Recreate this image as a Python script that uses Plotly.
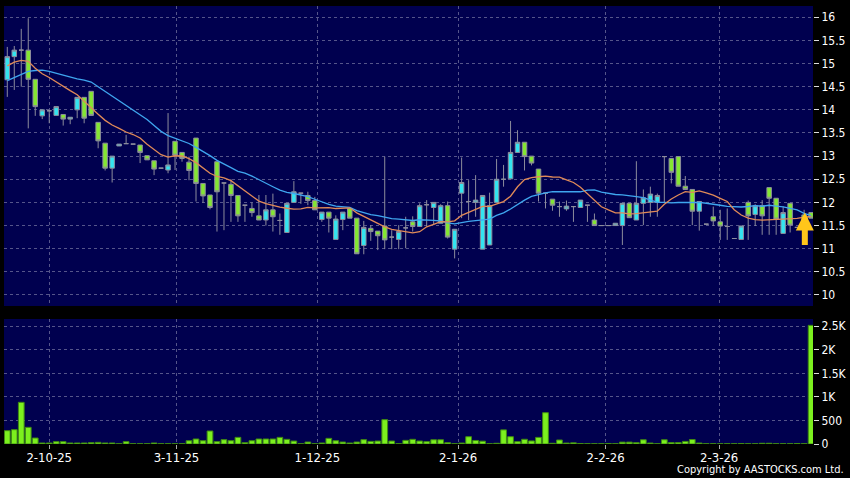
import plotly.graph_objects as go

# ---------------- data ----------------
opens = [14.65, 15.15, 15.29, 15.29, 14.66, 13.87, 13.98, 13.88, 13.90, 13.80,
         14.00, 14.27, 14.40, 13.73, 13.28, 12.74, 13.22, 13.27, 13.26, 13.24,
         13.01, 12.90, 12.74, 12.70, 13.32, 13.08, 12.87, 13.39, 12.41, 12.16,
         12.88, 12.42, 12.39, 12.15, 11.94, 11.87, 11.71, 11.62, 11.84, 11.61,
         11.35, 12.00, 12.20, 12.15, 12.04, 11.63, 11.79, 11.20, 11.63, 11.87,
         11.66, 11.07, 11.44, 11.38, 11.49, 11.25, 11.20, 11.45, 11.58, 11.48,
         11.95, 11.89, 11.55, 11.93, 10.99, 12.20, 12.02, 12.00, 10.99, 11.08,
         12.00, 12.50, 12.51, 13.08, 13.30, 13.00, 12.72, 12.20, 12.07, 11.91,
         11.86, 11.91, 11.89, 11.94, 11.62, 11.50, 11.50, 11.50, 11.50, 11.98,
         11.62, 11.98, 12.00, 12.00, 12.99, 12.95, 12.99, 12.35, 12.28, 11.81,
         11.53, 11.69, 11.58, 11.48, 11.22, 11.20, 12.00, 11.74, 11.93, 12.32,
         12.09, 11.33, 11.98, 11.46, 11.73, 11.78]
highs = [15.36, 15.38, 15.75, 15.98, 14.66, 14.00, 13.98, 14.07, 13.90, 13.84,
         14.27, 14.27, 14.40, 13.73, 13.28, 13.00, 13.26, 13.46, 13.26, 13.24,
         13.01, 12.90, 12.74, 13.93, 13.32, 13.08, 12.99, 13.39, 12.41, 12.16,
         12.88, 12.42, 12.50, 12.15, 11.94, 12.00, 12.16, 12.16, 12.19, 11.76,
         11.98, 12.46, 12.20, 12.23, 12.12, 11.79, 11.79, 11.72, 11.79, 11.87,
         11.66, 11.60, 11.51, 11.38, 12.99, 11.40, 11.51, 11.69, 11.70, 11.98,
         12.05, 12.00, 11.96, 12.02, 11.42, 12.97, 12.48, 12.59, 12.15, 12.21,
         12.94, 12.81, 13.76, 13.56, 13.30, 13.00, 12.72, 12.20, 12.07, 12.02,
         12.04, 11.91, 12.05, 11.94, 11.76, 11.50, 11.50, 11.55, 11.98, 11.98,
         12.89, 12.28, 12.34, 12.19, 12.99, 12.95, 12.99, 12.57, 12.28, 12.02,
         11.53, 11.91, 11.84, 11.87, 11.22, 11.49, 12.04, 11.96, 12.05, 12.32,
         12.09, 11.91, 11.98, 11.46, 11.84, 11.78]
lows = [14.28, 14.43, 14.50, 13.60, 13.87, 13.80, 13.71, 13.88, 13.66, 13.69,
        13.82, 13.71, 13.88, 13.17, 12.69, 12.43, 13.22, 13.27, 13.26, 12.85,
        12.92, 12.59, 12.74, 12.63, 12.70, 12.88, 12.48, 12.02, 11.99, 11.85,
        11.37, 11.40, 11.58, 11.58, 11.58, 11.69, 11.62, 11.50, 11.37, 11.30,
        11.35, 12.00, 11.97, 11.94, 11.84, 11.58, 11.35, 11.20, 11.40, 11.66,
        10.89, 10.88, 11.17, 10.97, 10.99, 10.99, 10.99, 11.01, 11.37, 11.48,
        11.48, 11.51, 11.55, 11.22, 10.79, 11.66, 11.62, 11.69, 10.99, 11.08,
        12.00, 12.34, 12.51, 13.08, 12.69, 12.80, 12.02, 11.87, 11.82, 11.69,
        11.82, 11.58, 11.89, 11.58, 11.50, 11.50, 11.50, 11.50, 11.08, 11.67,
        11.62, 11.51, 11.69, 11.69, 12.00, 12.41, 12.35, 12.28, 11.51, 11.39,
        11.53, 11.49, 11.19, 11.19, 11.22, 11.20, 11.19, 11.49, 11.30, 11.30,
        11.30, 11.33, 11.35, 11.46, 11.49, 11.66]
closes = [15.15, 15.29, 15.29, 14.66, 14.07, 14.00, 13.98, 14.07, 13.80, 13.84,
          14.27, 13.82, 13.88, 13.33, 12.74, 13.00, 13.26, 13.27, 13.26, 13.08,
          12.92, 12.72, 12.74, 12.81, 13.02, 12.95, 12.69, 12.41, 12.14, 11.89,
          12.23, 12.42, 12.15, 11.71, 11.94, 11.78, 11.62, 11.84, 11.69, 11.61,
          11.98, 12.23, 12.20, 12.04, 11.84, 11.79, 11.66, 11.64, 11.79, 11.66,
          10.89, 11.46, 11.37, 11.28, 11.19, 11.25, 11.37, 11.45, 11.48, 11.93,
          11.95, 12.00, 11.93, 11.25, 11.42, 12.43, 12.02, 12.05, 12.15, 11.93,
          12.50, 12.50, 13.08, 13.30, 12.99, 12.85, 12.20, 12.20, 11.94, 11.91,
          11.92, 11.91, 12.05, 11.94, 11.50, 11.50, 11.50, 11.55, 11.98, 11.67,
          11.98, 12.10, 12.18, 12.15, 12.99, 12.65, 12.35, 12.28, 11.81, 12.02,
          11.53, 11.60, 11.49, 11.48, 11.22, 11.49, 11.71, 11.93, 11.71, 12.09,
          11.64, 11.78, 11.51, 11.46, 11.49, 11.66]
volumes = [283, 304, 885, 354, 127, 21, 21, 50, 50, 21,
           21, 21, 28, 35, 21, 21, 5, 50, 5, 5,
           5, 21, 5, 5, 5, 5, 70, 106, 70, 276,
           50, 92, 70, 141, 28, 70, 106, 106, 106, 141,
           99, 63, 5, 42, 5, 21, 120, 70, 42, 21,
           42, 92, 56, 63, 517, 63, 5, 77, 99, 63,
           50, 90, 90, 28, 5, 20, 155, 75, 60, 5,
           15, 300, 155, 50, 100, 65, 140, 665, 15, 85,
           20, 25, 10, 5, 5, 5, 10, 5, 40, 40,
           28, 90, 20, 5, 90, 30, 30, 55, 95, 20,
           5, 5, 5, 5, 5, 10, 5, 5, 15, 15,
           5, 5, 5, 10, 5, 2520]

# moving-average values before enough closes are on the chart
ma10_head = [14.95, 15.03, 15.07, 15.05, 14.90, 14.78, 14.70, 14.60, 14.50]
ma20_head = [14.63, 14.70, 14.77, 14.83, 14.85, 14.86, 14.83, 14.79, 14.75, 14.70,
             14.67, 14.64, 14.60, 14.50, 14.40, 14.29, 14.19, 14.10, 14.00]

tick_pos = [6.0, 24.2, 44.35, 64.5, 85.6, 101.85]
tick_labels = ["2-10-25", "3-11-25", "1-12-25", "2-1-26", "2-2-26", "2-3-26"]
price_ticks = [10, 10.5, 11, 11.5, 12, 12.5, 13, 13.5, 14, 14.5, 15, 15.5, 16]
price_labels = ["10", "10.5", "11", "11.5", "12", "12.5", "13", "13.5", "14",
                "14.5", "15", "15.5", "16"]
vol_ticks = [0, 500, 1000, 1500, 2000, 2500]
vol_labels = ["0", "500", "1K", "1.5K", "2K", "2.5K"]

# ---------------- derived ----------------
n = len(closes)
idx = list(range(n))


def sma(vals, w, head):
    out = list(head)
    for i in range(w - 1, len(vals)):
        out.append(sum(vals[i - w + 1:i + 1]) / w)
    return out


ma10 = sma(closes, 10, ma10_head)
ma20 = sma(closes, 20, ma20_head)

FONT = "DejaVu Sans Condensed, DejaVu Sans, sans-serif"
NAVY = "#00004f"
GRID = "#55558a"

fig = go.Figure()
fig.add_trace(go.Candlestick(
    x=idx, open=opens, high=highs, low=lows, close=closes,
    increasing=dict(fillcolor="#33e4f0", line=dict(color="#8c8c9c", width=1)),
    decreasing=dict(fillcolor="#84e632", line=dict(color="#8c8c9c", width=1)),
    whiskerwidth=0, xaxis="x", yaxis="y", hoverinfo="skip", showlegend=False))
fig.add_trace(go.Scatter(x=idx, y=ma20, mode="lines", line=dict(color="#3fa6ef", width=1.3),
                         xaxis="x", yaxis="y", hoverinfo="skip", showlegend=False))
fig.add_trace(go.Scatter(x=idx, y=ma10, mode="lines", line=dict(color="#e08a58", width=1.3),
                         xaxis="x", yaxis="y", hoverinfo="skip", showlegend=False))
fig.add_trace(go.Bar(x=idx, y=volumes, width=0.82,
                     marker=dict(color="#7cf01e", line=dict(color="#3f8a12", width=1)),
                     xaxis="x2", yaxis="y2", hoverinfo="skip", showlegend=False))

xr = [-0.47, 115.27]
common_x = dict(range=xr, tickvals=tick_pos, showgrid=True, gridcolor=GRID,
                griddash="3px,3px", gridwidth=1, zeroline=False, showline=False,
                fixedrange=True)

fig.update_layout(
    width=850, height=478,
    paper_bgcolor="#000000", plot_bgcolor=NAVY,
    margin=dict(l=4, r=37, t=6, b=34),
    font=dict(family=FONT, color="#ffffff", size=12),
    boxgap=0.08,
    xaxis=dict(domain=[0, 1], anchor="y", showticklabels=False, ticks="",
               rangeslider=dict(visible=False), **common_x),
    xaxis2=dict(domain=[0, 1], anchor="y2", ticktext=tick_labels, ticks="outside",
                ticklen=4, tickcolor="#aaaaaa", tickfont=dict(size=13, color="#ffffff"),
                ticklabelstandoff=-3, **common_x),
    yaxis=dict(domain=[0.3151, 1], anchor="x", side="right", range=[9.762, 16.244],
               tickvals=price_ticks, ticktext=price_labels, ticks="outside", ticklen=5,
               tickcolor="#dddddd", tickfont=dict(size=12, color="#ffffff"),
               showgrid=True, gridcolor=GRID, griddash="3px,3px", zeroline=False,
               showline=False, fixedrange=True),
    yaxis2=dict(domain=[0, 0.2854], anchor="x2", side="right", range=[0, 2655],
                tickvals=vol_ticks, ticktext=vol_labels, ticks="outside", ticklen=5,
                tickcolor="#dddddd", tickfont=dict(size=12, color="#ffffff"),
                showgrid=True, gridcolor=GRID, griddash="3px,3px", zeroline=False,
                showline=False, fixedrange=True),
    annotations=[
        dict(text="Copyright by AASTOCKS.com Ltd.", xref="paper", yref="paper",
             x=1.0408, y=-0.059, xanchor="right", yanchor="middle", showarrow=False,
             font=dict(size=11, color="#ffffff", family=FONT)),
        dict(text="", x=idx[-2] + 0.1, y=11.78, xref="x", yref="y", showarrow=True,
             ax=0, ay=34, arrowhead=2, arrowsize=0.6, arrowwidth=6,
             arrowcolor="#ffc61a", standoff=0),
    ],
)

fig.write_html("out.html", config={"displayModeBar": False},
               post_script="document.body.style.margin='0';")
